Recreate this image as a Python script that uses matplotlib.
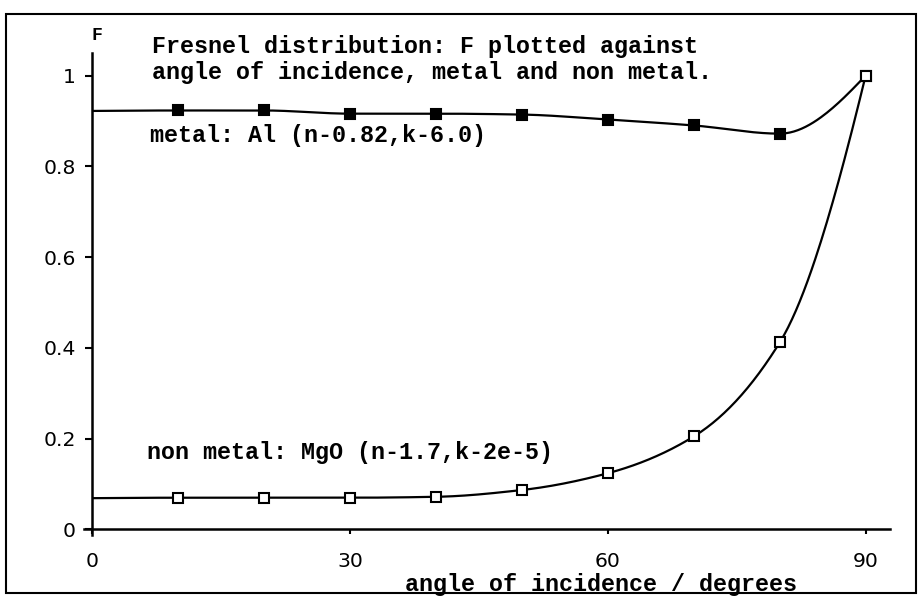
import numpy as np
import matplotlib.pyplot as plt
from matplotlib.ticker import FuncFormatter
from matplotlib.patches import Rectangle

# F against angle of incidence (degrees)
angle = [0, 10, 20, 30, 40, 50, 60, 70, 80, 90]
metal_F = [0.922, 0.923, 0.923, 0.916, 0.916, 0.914, 0.903, 0.890, 0.872, 1.0]
nonmetal_F = [0.069, 0.070, 0.070, 0.070, 0.072, 0.087, 0.124, 0.205, 0.412, 1.0]

x_ticks = [0, 30, 60, 90]
y_ticks = [0, 0.2, 0.4, 0.6, 0.8, 1.0]

mono = 'Liberation Mono'


def pchip(x, y, num=400):
    # shape preserving cubic (Fritsch-Carlson) through the points
    x = np.asarray(x, float)
    y = np.asarray(y, float)
    n = len(x)
    h = np.diff(x)
    delta = np.diff(y) / h
    d = np.zeros(n)
    for k in range(1, n - 1):
        if delta[k - 1] * delta[k] > 0:
            w1 = 2 * h[k] + h[k - 1]
            w2 = h[k] + 2 * h[k - 1]
            d[k] = (w1 + w2) / (w1 / delta[k - 1] + w2 / delta[k])
    d[0] = ((2 * h[0] + h[1]) * delta[0] - h[0] * delta[1]) / (h[0] + h[1])
    if np.sign(d[0]) != np.sign(delta[0]):
        d[0] = 0
    d[-1] = ((2 * h[-1] + h[-2]) * delta[-1] - h[-1] * delta[-2]) / (h[-1] + h[-2])
    if np.sign(d[-1]) != np.sign(delta[-1]):
        d[-1] = 0
    xs = np.linspace(x[0], x[-1], num)
    idx = np.clip(np.searchsorted(x, xs) - 1, 0, n - 2)
    t = (xs - x[idx]) / h[idx]
    h00 = 2 * t**3 - 3 * t**2 + 1
    h10 = t**3 - 2 * t**2 + t
    h01 = -2 * t**3 + 3 * t**2
    h11 = t**3 - t**2
    ys = h00 * y[idx] + h10 * h[idx] * d[idx] + h01 * y[idx + 1] + h11 * h[idx] * d[idx + 1]
    return xs, ys


W, H = 920, 601
fig = plt.figure(figsize=(W / 100, H / 100), dpi=100)
ax = fig.add_axes([92.5 / W, 0.1103, 797.2 / W, 0.8018])

for F, face in [(metal_F, 'black'), (nonmetal_F, 'white')]:
    xs, ys = pchip(angle, F)
    ax.plot(xs, ys, color='black', lw=1.6, zorder=2)
    ax.plot(angle[1:], F[1:], ls='none', marker='s', ms=6.5, mew=1.5,
            mec='black', mfc=face, zorder=3)

ax.set_xlim(0, 92.8)
ax.set_ylim(-0.0115, 1.05)
ax.spines['top'].set_visible(False)
ax.spines['right'].set_visible(False)
ax.spines['bottom'].set_position(('data', 0))
ax.spines['bottom'].set_bounds(-1.0, 92.8)
for s in ['left', 'bottom']:
    ax.spines[s].set_linewidth(1.8)

ax.set_xticks(x_ticks)
ax.set_yticks(y_ticks)
ax.yaxis.set_major_formatter(FuncFormatter(lambda v, _: '%g' % v))
ax.tick_params(axis='x', direction='out', length=3.6, width=1.5, pad=12.6,
               labelsize=14.7)
ax.tick_params(axis='y', direction='out', length=5, width=1.5, pad=7,
               labelsize=14.7)


def px_text(x, y, s, **kw):
    fig.text(x / W, 1 - y / H, s, va='baseline', ha='left', family=mono,
             fontsize=16.8, fontweight='bold', **kw)


fig.text(97 / W, 1 - 36 / H, 'F', ha='center', va='center', family=mono,
         fontsize=13, fontweight='bold')
px_text(152, 53, 'Fresnel distribution: F plotted against')
px_text(152, 79, 'angle of incidence, metal and non metal.')
px_text(150, 142, 'metal: Al (n-0.82,k-6.0)')
px_text(147, 459, 'non metal: MgO (n-1.7,k-2e-5)')
px_text(405, 591, 'angle of incidence / degrees')

# outer border
fig.patches.append(Rectangle((6 / W, 1 - 593 / H), 910 / W, 579 / H,
                             transform=fig.transFigure, fill=False,
                             lw=1.5, ec='black'))

fig.savefig('out.png', dpi=100)
